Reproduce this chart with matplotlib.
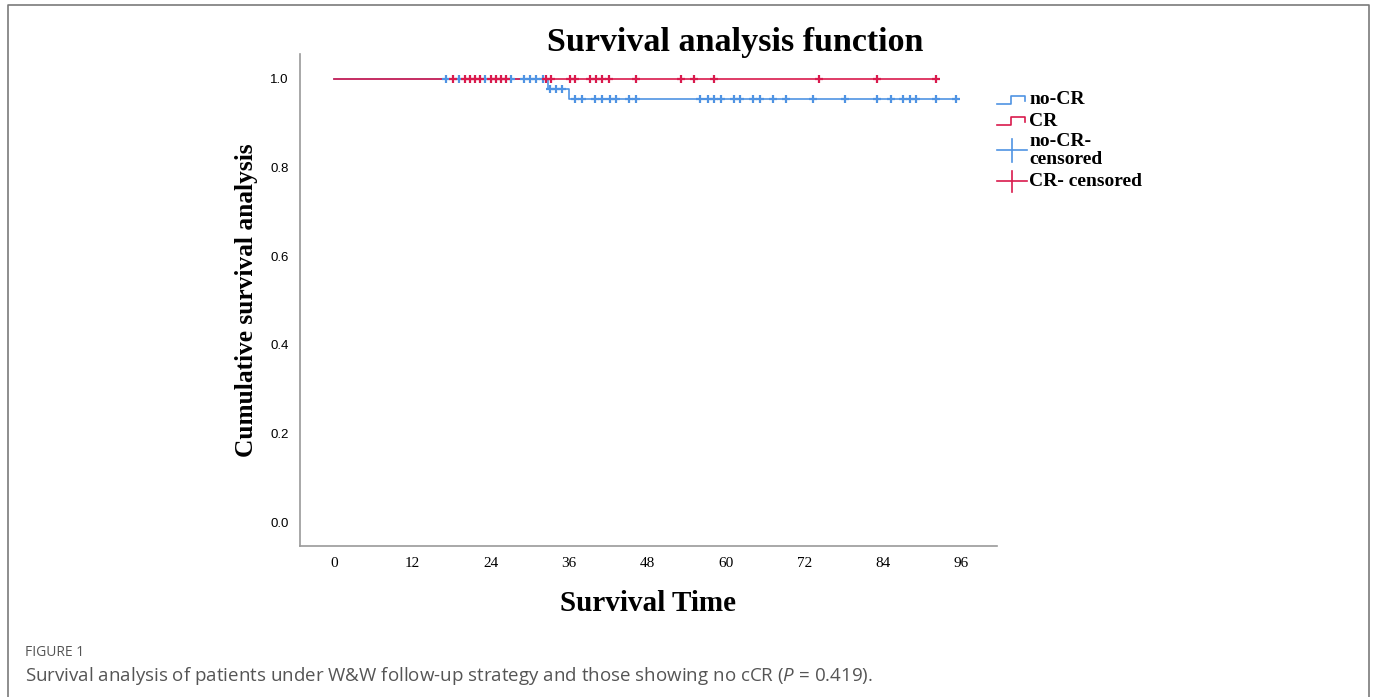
import matplotlib
matplotlib.use("Agg")
import matplotlib.pyplot as plt
from matplotlib.lines import Line2D
import numpy as np

plt.rcParams['mathtext.fontset'] = 'custom'
plt.rcParams['mathtext.it'] = 'Open Sans:italic'
plt.rcParams['mathtext.rm'] = 'Open Sans'

# Kaplan-Meier step curves
nocr_times = [0, 32.7, 36.0, 95.3]
nocr_surv = [1.0, 0.978, 0.955, 0.955]
cr_times = [0, 92.5]
cr_surv = [1.0, 1.0]

# censored observations (months)
nocr_censored = [17.2, 19.2, 23.1, 27.1, 29.1, 30.0, 30.9, 32.0,
                 33.1, 34.0, 34.9,
                 36.9, 38.0, 40.0, 41.1, 42.2, 43.2, 45.2, 46.2,
                 56.1, 57.2, 58.2, 59.2, 61.2, 62.2, 64.2, 65.2, 67.2, 69.2,
                 73.3, 78.3, 83.2, 85.2, 87.1, 88.2, 89.1, 92.2, 95.3]
cr_censored = [18.2, 20.1, 20.8, 21.6, 22.3, 24.0, 24.8, 25.5, 26.3, 32.4,
               33.2, 36.1, 36.9, 39.2, 40.1, 41.1, 42.1, 46.2,
               53.1, 55.1, 58.2, 74.2, 83.2, 92.2]

xticks = [0, 12, 24, 36, 48, 60, 72, 84, 96]
yticks = [0.0, 0.2, 0.4, 0.6, 0.8, 1.0]

blue = '#4f93e3'
red = '#d91a4d'
serif = 'Liberation Serif'

W, H = 1375, 697


def px(x, y):
    # pixel position -> figure fraction
    return x / W, 1 - y / H


def surv_at(times, surv, t):
    i = np.searchsorted(times, t, side='right') - 1
    return np.asarray(surv)[i]


fig = plt.figure(figsize=(W / 100, H / 100), dpi=100)
l, b = px(300, 546)
r, t = px(997, 54)
ax = fig.add_axes([l, b, r - l, t - b])

ax.step(nocr_times, nocr_surv, where='post', color=blue, lw=1.2)
ax.step(cr_times, cr_surv, where='post', color=red, lw=1.2)
ax.plot(nocr_censored, surv_at(nocr_times, nocr_surv, nocr_censored), '+',
        color=blue, ms=6, mew=1.6, ls='none')
ax.plot(cr_censored, surv_at(cr_times, cr_surv, cr_censored), '+',
        color=red, ms=6, mew=1.6, ls='none')

ax.set_xlim(-5.2, 101.5)
ax.set_ylim(-0.054, 1.056)
ax.set_xticks(xticks)
ax.set_xticklabels([str(v) for v in xticks], fontfamily=serif, fontsize=11)
ax.set_yticks(yticks)
ax.set_yticklabels([f'{v:.1f}' for v in yticks], fontfamily='Liberation Sans',
                   fontsize=9.5)
ax.tick_params(length=0)
ax.tick_params(axis='x', pad=8)
ax.tick_params(axis='y', pad=8)
for s in ['top', 'right']:
    ax.spines[s].set_visible(False)
for s in ['left', 'bottom']:
    ax.spines[s].set_color('#9a9a9a')
    ax.spines[s].set_linewidth(1.2)

ax.set_xlabel('Survival Time', fontfamily=serif, fontweight='bold',
              fontsize=21, labelpad=14)
ax.set_ylabel('Cumulative survival analysis', fontfamily=serif,
              fontweight='bold', fontsize=18.3, labelpad=9)
fig.text(*px(735, 42), 'Survival analysis function', fontfamily=serif,
         fontweight='bold', fontsize=24.5, ha='center', va='center')

# legend drawn by hand (SPSS style)
def fig_line(xs, ys, color):
    pts = [px(x, y) for x, y in zip(xs, ys)]
    fig.add_artist(Line2D([p[0] for p in pts], [p[1] for p in pts],
                          color=color, lw=1.2))

leg_font = dict(fontfamily=serif, fontweight='bold', fontsize=14,
                va='center', ha='left')
fig_line([997, 1011, 1011, 1025, 1025], [104, 104, 96, 96, 101], blue)
fig.text(*px(1029, 100), 'no-CR', **leg_font)
fig_line([997, 1011, 1011, 1025, 1025], [125, 125, 117, 117, 122], red)
fig.text(*px(1029, 121), 'CR', **leg_font)
fig_line([997, 1027], [150, 150], blue)
fig_line([1012, 1012], [139, 162], blue)
fig.text(*px(1029, 141), 'no-CR-', **leg_font)
fig.text(*px(1029, 160), 'censored', **leg_font)
fig_line([997, 1027], [181, 181], red)
fig_line([1012, 1012], [171, 192], red)
fig.text(*px(1029, 181), 'CR- censored', **leg_font)

# page frame and caption
fig_line([8, 8, 1369, 1369], [700, 5, 5, 700], '#7a7a7a')
fig.text(*px(25, 653), 'FIGURE 1', fontfamily='Open Sans', fontsize=10,
         color='#555555', va='center', ha='left')
fig.text(*px(25, 676),
         r'Survival analysis of patients under W&W follow-up strategy and '
         r'those showing no cCR ($\mathit{P}$ = 0.419).',
         fontfamily='Open Sans', fontsize=13.5, color='#555555',
         va='center', ha='left')

fig.savefig('out.png', dpi=100)
